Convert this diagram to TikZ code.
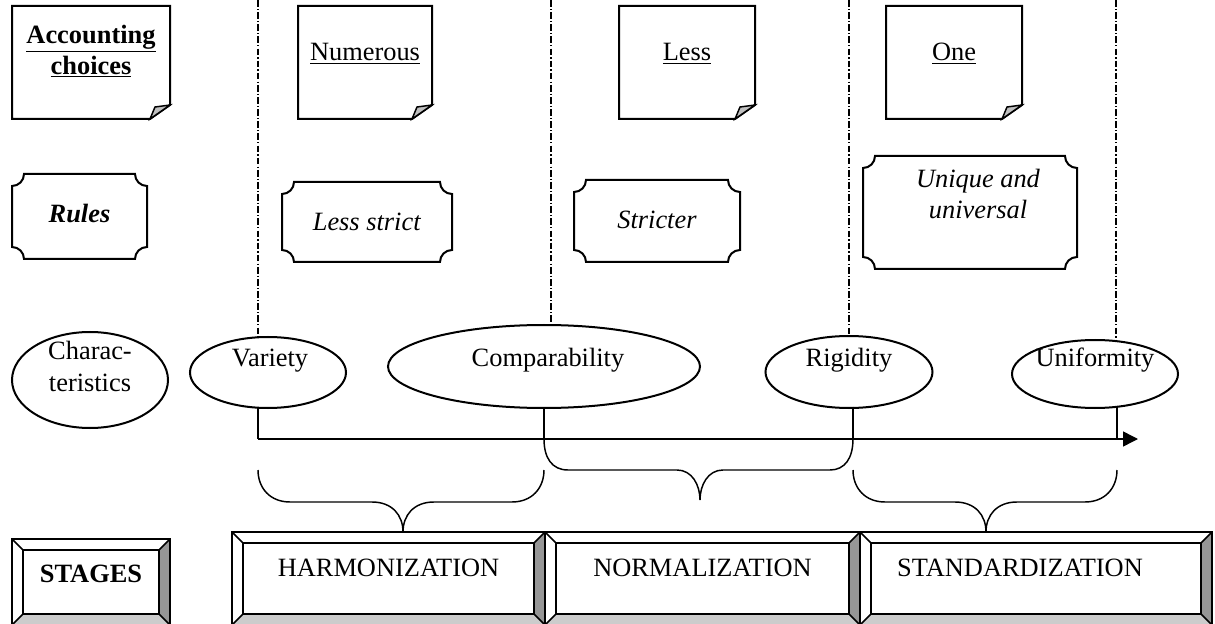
\documentclass[tikz,border=0pt]{standalone}
\usepackage{fontspec}
\setmainfont{Liberation Serif}
\usetikzlibrary{shapes.geometric,arrows.meta}
\definecolor{foldgray}{RGB}{192,192,192}
\definecolor{bevdark}{RGB}{150,150,150}
\definecolor{bevlight}{RGB}{204,204,204}
\newcommand\docdraw[1]{%
 \draw[shapeline] (#1.north west) -- (#1.north east) -- ([yshift=10.5pt]#1.south east) -- ([xshift=-15pt]#1.south east) -- (#1.south west) -- cycle;
 \draw[line width=1.1pt, fill=foldgray] ([xshift=-15pt]#1.south east) .. controls ([xshift=-13pt,yshift=5pt]#1.south east) .. ([xshift=-11.25pt,yshift=9pt]#1.south east) -- ([yshift=10.5pt]#1.south east) -- cycle;
}
\newcommand\plaque[1]{%
 \draw[shapeline] ([xshift=9pt]#1.north west) -- ([xshift=-9pt]#1.north east)
  .. controls ([xshift=-9pt,yshift=-5pt]#1.north east) and ([xshift=-5pt,yshift=-9pt]#1.north east) .. ([yshift=-9pt]#1.north east)
  -- ([yshift=9pt]#1.south east)
  .. controls ([xshift=-5pt,yshift=9pt]#1.south east) and ([xshift=-9pt,yshift=5pt]#1.south east) .. ([xshift=-9pt]#1.south east)
  -- ([xshift=9pt]#1.south west)
  .. controls ([xshift=9pt,yshift=5pt]#1.south west) and ([xshift=5pt,yshift=9pt]#1.south west) .. ([yshift=9pt]#1.south west)
  -- ([yshift=-9pt]#1.north west)
  .. controls ([xshift=5pt,yshift=-9pt]#1.north west) and ([xshift=9pt,yshift=-5pt]#1.north west) .. ([xshift=9pt]#1.north west) -- cycle;
}
\newcommand\bevel[1]{%
 \fill[bevdark] (#1.north east) -- (#1.south east) -- ([shift={(-8.25pt,8.25pt)}]#1.south east) -- ([shift={(-8.25pt,-8.25pt)}]#1.north east) -- cycle;
 \fill[bevlight] (#1.south west) -- (#1.south east) -- ([shift={(-8.25pt,8.25pt)}]#1.south east) -- ([shift={(8.25pt,8.25pt)}]#1.south west) -- cycle;
 \draw[line width=1.5pt] ([shift={(8.25pt,8.25pt)}]#1.south west) rectangle ([shift={(-8.25pt,-8.25pt)}]#1.north east);
 \draw[line width=1.1pt] (#1.north west) -- ([shift={(8.25pt,-8.25pt)}]#1.north west)
   (#1.north east) -- ([shift={(-8.25pt,-8.25pt)}]#1.north east)
   (#1.south west) -- ([shift={(8.25pt,8.25pt)}]#1.south west)
   (#1.south east) -- ([shift={(-8.25pt,8.25pt)}]#1.south east);
 \draw[line width=1.5pt] (#1.north west) rectangle (#1.south east);
}
\begin{document}
\begin{tikzpicture}[x=0.75pt,y=-0.75pt,
  every node/.style={font=\fontsize{19.8}{23}\selectfont, inner sep=0pt, outer sep=0pt, align=center},
  shapeline/.style={line width=1.5pt},
  conn/.style={line width=1.1pt},
  guide/.style={line width=0.9pt, dash pattern=on 5pt off 1.6pt on 0.9pt off 1.6pt},
  docbox/.style={minimum height=84.75pt},
  ell/.style={ellipse, draw, line width=1.5pt},
  bev/.style={minimum height=69.75pt},
]
\useasboundingbox (0,0) rectangle (1215,624);

% guide lines
\coordinate (t1) at (258,0);
\coordinate (t2) at (551,0);
\coordinate (t3) at (849,0);
\coordinate (t4) at (1116,0);

% row 1: documents
\node[docbox, minimum width=118.5pt, label={[yshift=8.5pt]center:{\textbf{\underline{Accounting}}\\\textbf{\underline{choices}}}}] (acc) at (91,62.5) {};
\node[docbox, minimum width=100.5pt, label={[yshift=6.6pt]center:{\underline{Numerous}}}] (num) at (365,62.5) {};
\node[docbox, minimum width=102pt, label={[yshift=6.6pt]center:{\underline{Less}}}] (less) at (687,62.5) {};
\node[docbox, minimum width=102pt, label={[yshift=6.6pt]center:{\underline{One}}}] (one) at (954,62.5) {};
\docdraw{acc}\docdraw{num}\docdraw{less}\docdraw{one}

% row 2: plaques
\node[minimum width=101.25pt, minimum height=63.75pt, label={[yshift=2pt]center:{\textbf{\textit{Rules}}}}] (rules) at (79.5,216.5) {};
\node[minimum width=127.5pt, minimum height=60pt, label={[yshift=0pt]center:{\textit{Less strict}}}] (lstrict) at (367,222) {};
\node[minimum width=124.5pt, minimum height=61.5pt, label={[yshift=0.5pt]center:{\textit{Stricter}}}] (stricter) at (657,221) {};
\node[minimum width=160.5pt, minimum height=84.75pt, label={[yshift=14pt,xshift=6pt]center:{\textit{Unique and}\\\textit{universal}}}] (unique) at (970,212.5) {};
\plaque{rules}\plaque{lstrict}\plaque{stricter}\plaque{unique}

% row 3: ellipses
\node[ell, minimum width=117pt, minimum height=72pt, label={[yshift=10pt]center:{Charac-\\[1pt]teristics}}] (char) at (90,380) {};
\node[ell, minimum width=117pt, minimum height=53.25pt, label={[yshift=8.8pt,xshift=1.5pt]center:{Variety}}] (var) at (268,372.5) {};
\node[ell, minimum width=234pt, minimum height=62.25pt, label={[yshift=4.6pt,xshift=3pt]center:{Comparability}}] (comp) at (544,366.5) {};
\node[ell, minimum width=125.25pt, minimum height=54pt, label={[yshift=8.7pt]center:{Rigidity}}] (rig) at (849,372) {};
\node[ell, minimum width=124.5pt, minimum height=51pt, label={[yshift=10.2pt]center:{Uniformity}}] (uni) at (1095,374) {};

\draw[guide] (t1) -- (t1 |- var.north);
\draw[guide] (t2) -- (t2 |- comp.north);
\draw[guide] (t3) -- (t3 |- rig.north);
\draw[guide] (t4) -- ([yshift=-1pt]t4 |- uni.north);

% axis
\coordinate (a1) at (258,439);
\coordinate (a2) at (544,439);
\coordinate (a3) at (853,439);
\coordinate (a4) at (1117,439);
\coordinate (aend) at (1138,439);
\draw[conn] (var.south -| a1) -- (a1);
\draw[conn] (comp.south) -- (a2);
\draw[conn] ([yshift=1pt]rig.south -| a3) -- (a3);
\draw[conn] ([yshift=1.2pt]uni.south -| a4) -- (a4);
\draw[conn, -{Triangle[length=11.25pt,width=11.25pt]}] (a1) -- (aend);

% braces
\coordinate (b1l) at (258,470);
\coordinate (b1r) at (544,470);
\coordinate (b1t) at (403,532);
\coordinate (b3l) at (853,470);
\coordinate (b3r) at (1117,470);
\coordinate (b3t) at (986,532);
\coordinate (b2t) at (700,500);
\draw[conn] (b1l) .. controls (258,488) and (270,502) .. (290,502) -- (372,502)
  .. controls (392,502) and (403,515) .. (b1t)
  .. controls (403,515) and (414,502) .. (434,502) -- (512,502)
  .. controls (532,502) and (544,488) .. (b1r);
\draw[conn] (a2) .. controls (544,458) and (552,470) .. (568,470) -- (677,470)
  .. controls (692,470) and (700,485) .. (b2t)
  .. controls (700,485) and (708,470) .. (723,470) -- (830,470)
  .. controls (845,470) and (853,458) .. (a3);
\draw[conn] (b3l) .. controls (853,488) and (865,502) .. (885,502) -- (955,502)
  .. controls (975,502) and (986,515) .. (b3t)
  .. controls (986,515) and (997,502) .. (1017,502) -- (1085,502)
  .. controls (1105,502) and (1117,488) .. (b3r);

% row 4: stages
\node[bev, minimum width=118.5pt, minimum height=64.5pt] (stages) at (91,582) {};
\node[bev, minimum width=234.75pt] (harm) at (388.5,578.5) {};
\node[bev, minimum width=236.25pt] (norm) at (702.5,578.5) {};
\node[bev, minimum width=264pt] (stand) at (1036,578.5) {};
\bevel{stages}\bevel{harm}\bevel{norm}\bevel{stand}
\node[yshift=6pt] (stages-t) at (stages.center) {\textbf{STAGES}};
\node[yshift=7.9pt] (harm-t) at (harm.center) {HARMONIZATION};
\node[yshift=7.9pt] (norm-t) at (norm.center) {NORMALIZATION};
\node[yshift=7.9pt, xshift=-12pt] (stand-t) at (stand.center) {STANDARDIZATION};
\end{tikzpicture}
\end{document}
